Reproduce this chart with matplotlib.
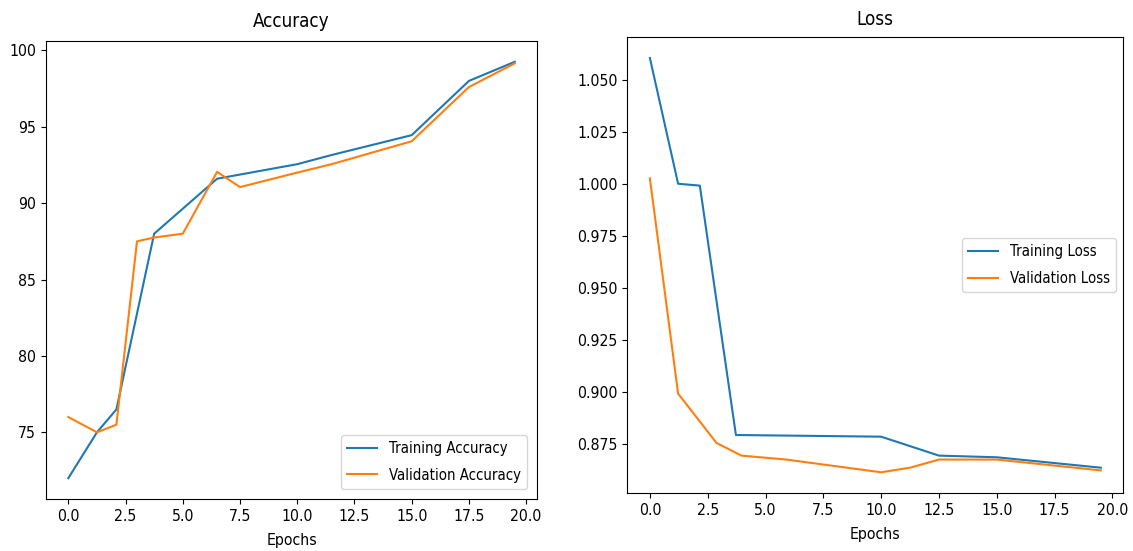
import matplotlib
matplotlib.use("Agg")
import matplotlib.pyplot as plt
from matplotlib import font_manager

# values
acc_train_epochs = [0, 1.25, 2.1, 3.75, 6.5, 10.0, 11.5, 15.0, 17.5, 19.5]
acc_train = [72.0, 75.0, 76.5, 88.0, 91.6, 92.55, 93.15, 94.45, 98.0, 99.25]

acc_val_epochs = [0, 1.25, 2.1, 3.0, 3.75, 5.0, 6.5, 7.5, 10.0, 11.5, 15.0, 17.5, 19.5]
acc_val = [76.0, 75.0, 75.5, 87.5, 87.75, 88.0, 92.05, 91.05, 92.0, 92.55, 94.05, 97.6, 99.15]

loss_train_epochs = [0, 1.22, 2.16, 3.72, 10.0, 12.5, 15.0, 19.5]
loss_train = [1.0604, 1.0000, 0.9991, 0.8793, 0.8785, 0.8694, 0.8686, 0.8636]

loss_val_epochs = [0, 1.22, 2.88, 3.96, 5.9, 10.0, 11.25, 12.5, 15.0, 19.5]
loss_val = [1.0026, 0.8992, 0.8755, 0.8694, 0.8675, 0.8614, 0.8636, 0.8675, 0.8675, 0.8623]

# narrower text if a condensed face is around
names = {f.name + "|" + str(f.stretch) for f in font_manager.fontManager.ttflist}
if any(n.startswith("DejaVu Sans|") and ("condensed" in n or "|75" in n or "|87" in n) for n in names):
    plt.rcParams["font.stretch"] = "condensed"
plt.rcParams["font.family"] = ["DejaVu Sans"]
plt.rcParams["font.size"] = 11.3

fig = plt.figure(figsize=(11.33, 5.51), dpi=100)

ax1 = fig.add_axes([0.0406, 0.0944, 0.4334, 0.8312])
ax1.plot(acc_train_epochs, acc_train, label="Training Accuracy")
ax1.plot(acc_val_epochs, acc_val, label="Validation Accuracy")
ax1.set_title("Accuracy", fontsize=13.5, pad=10)
ax1.set_xlabel("Epochs", labelpad=7)
ax1.set_xticks([0, 2.5, 5, 7.5, 10, 12.5, 15, 17.5, 20])
ax1.legend(loc="lower right", fontsize=10.7, labelspacing=0.8, borderaxespad=0.7)

ax2 = fig.add_axes([0.5537, 0.1053, 0.4378, 0.8270])
ax2.plot(loss_train_epochs, loss_train, label="Training Loss")
ax2.plot(loss_val_epochs, loss_val, label="Validation Loss")
ax2.set_title("Loss", fontsize=13.5, pad=9)
ax2.set_xlabel("Epochs", labelpad=7)
ax2.set_xticks([0, 2.5, 5, 7.5, 10, 12.5, 15, 17.5, 20])
ax2.legend(loc="center right", fontsize=10.7, labelspacing=0.8)

fig.savefig("out.png", dpi=100)
